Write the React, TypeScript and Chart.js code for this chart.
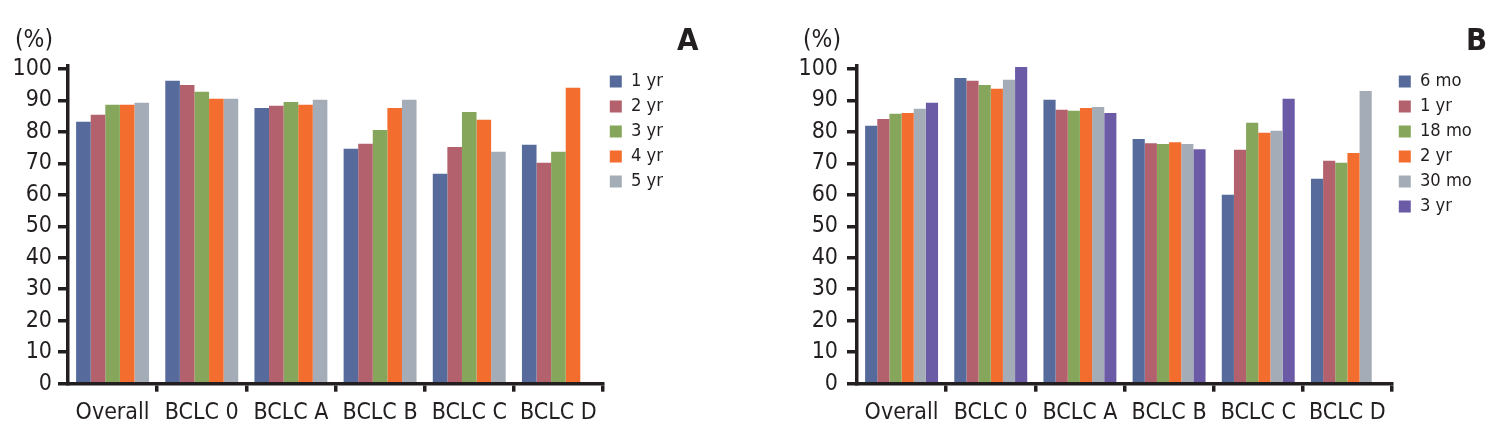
import React, { useEffect, useRef } from 'react';
import { Chart, registerables } from 'chart.js';

Chart.register(...registerables);

// ---------- data ----------
const categories = ['Overall', 'BCLC 0', 'BCLC A', 'BCLC B', 'BCLC C', 'BCLC D'];

// Panel A
const seriesLabelsA = ['1 yr', '2 yr', '3 yr', '4 yr', '5 yr'];
const yr1A = [83.2, 96.2, 87.6, 74.6, 66.7, 75.9];
const yr2A = [85.4, 94.9, 88.3, 76.2, 75.2, 70.2];
const yr3A = [88.6, 92.7, 89.5, 80.6, 86.3, 73.7];
const yr4A = [88.6, 90.5, 88.6, 87.6, 83.8, 94.0];
const yr5A = [89.2, 90.5, 90.2, 90.2, 73.7, null];

// Panel B
const seriesLabelsB = ['6 mo', '1 yr', '18 mo', '2 yr', '30 mo', '3 yr'];
const mo6B = [81.9, 97.1, 90.2, 77.7, 60.0, 65.1];
const yr1B = [84.1, 96.2, 87.0, 76.4, 74.3, 70.8];
const mo18B = [85.7, 94.9, 86.7, 76.1, 82.9, 70.2];
const yr2B = [86.0, 93.7, 87.6, 76.7, 79.7, 73.3];
const mo30B = [87.3, 96.5, 87.9, 76.1, 80.3, 93.0];
const yr3B = [89.2, 100.6, 86.0, 74.5, 90.5, null];

const yMin = 0;
const yMax = 101;
const yStep = 10;
const unitLabel = '(%)';

// ---------- styles ----------
const INK = '#231f20';
const COLORS_A = ['#566a9b', '#b3616c', '#86a65b', '#f36d2f', '#a4adb7'];
const COLORS_B = ['#566a9b', '#b3616c', '#86a65b', '#f36d2f', '#a4adb7', '#6b5ba7'];
const FAMILY_CANDIDATES = [
  'Noto Sans ExtraCondensed',
  'Noto Sans Condensed',
  'Liberation Sans Narrow',
  'DejaVu Sans Condensed',
];

// ---------- font metrics helpers ----------
const measureCtx = (() => {
  const c = document.createElement('canvas');
  return c.getContext('2d') as CanvasRenderingContext2D;
})();

function pickFamily(): string {
  const test = 'Overall BCLC 0123456789 yr mo';
  for (const fam of FAMILY_CANDIDATES) {
    measureCtx.font = '40px monospace';
    const w0 = measureCtx.measureText(test).width;
    measureCtx.font = `40px '${fam}', monospace`;
    const w1 = measureCtx.measureText(test).width;
    if (Math.abs(w1 - w0) > 0.5) return `'${fam}'`;
  }
  return "'DejaVu Sans'";
}

const FAMILY = pickFamily() + ', sans-serif';

function textWidth(text: string, size: number, weight = 'normal'): number {
  measureCtx.font = `${weight} ${size}px ${FAMILY}`;
  return measureCtx.measureText(text).width;
}

// size such that the text is the wanted width
function sizeFor(text: string, width: number): number {
  return (100 * width) / textWidth(text, 100);
}

const TICK_SIZE = Math.min(26, sizeFor('Overall', 74));
const LEGEND_SIZE = Math.min(20, sizeFor('18 mo', 52));
const UNIT_SIZE = Math.min(28, sizeFor('(%)', 38));
const LETTER_SIZE = Math.min(31, sizeFor('A', 19));

const decorPlugin = {
  id: 'decor',
  afterDraw(chart: any, _args: any, opts: any) {
    const ctx = chart.ctx;
    ctx.save();
    ctx.fillStyle = INK;
    ctx.textBaseline = 'alphabetic';
    ctx.textAlign = 'left';
    ctx.font = `${UNIT_SIZE}px ${FAMILY}`;
    ctx.fillText(opts.unit, opts.unitX, opts.unitY);
    ctx.font = `bold ${LETTER_SIZE}px ${FAMILY}`;
    ctx.fillText(opts.letter, opts.letterX, opts.letterY);
    ctx.restore();
  },
};

function makeConfig(
  labels: string[],
  series: (number | null)[][],
  colors: string[],
  geom: { canvasW: number; axisLeft: number; axisRight: number; yPad: number },
  decor: any
): any {
  const legendPad = 25 - LEGEND_SIZE;
  const maxText = Math.max(...labels.map((l) => textWidth(l, LEGEND_SIZE)));
  const legendW = legendPad + 12 + LEGEND_SIZE / 2 + maxText + 10;
  const rightPad = geom.canvasW - geom.axisRight - legendW;
  const leftPad = 2;
  const yAxisW = geom.axisLeft - leftPad;
  const xLabelPad = 413 - (383.7 + 8) - 0.6 * TICK_SIZE;

  return {
    type: 'bar',
    data: {
      labels: categories,
      datasets: series.map((d, i) => ({
        label: labels[i],
        data: d,
        backgroundColor: colors[i],
        borderWidth: 0,
        categoryPercentage: 0.818,
        barPercentage: 1,
      })),
    },
    options: {
      responsive: false,
      animation: false,
      devicePixelRatio: 1,
      layout: { padding: { left: leftPad, right: rightPad, top: 65.7, bottom: 0 } },
      plugins: {
        legend: {
          position: 'right',
          align: 'start',
          labels: {
            boxWidth: 12,
            boxHeight: 12,
            padding: legendPad,
            color: INK,
            font: { family: FAMILY, size: LEGEND_SIZE },
          },
        },
        tooltip: { enabled: false },
        decor,
      },
      scales: {
        x: {
          grid: {
            offset: true,
            drawOnChartArea: false,
            drawTicks: true,
            tickLength: 8,
            lineWidth: 3.5,
            color: (c: any) =>
              c.index === 0 || c.index === categories.length ? 'rgba(0,0,0,0)' : INK,
          },
          border: { display: true, color: INK, width: 3.5, z: 1 },
          ticks: {
            color: INK,
            font: { family: FAMILY, size: TICK_SIZE },
            padding: xLabelPad,
            maxRotation: 0,
            autoSkip: false,
          },
          afterFit: (s: any) => {
            s.height = 442 - 383.7;
          },
        },
        y: {
          min: yMin,
          max: yMax,
          grid: {
            drawOnChartArea: false,
            drawTicks: true,
            tickLength: 10,
            lineWidth: 3.5,
            color: INK,
          },
          border: { display: true, color: INK, width: 3.5, z: 1 },
          ticks: {
            stepSize: yStep,
            includeBounds: false,
            autoSkip: false,
            padding: geom.yPad,
            color: INK,
            font: { family: FAMILY, size: TICK_SIZE },
          },
          afterFit: (s: any) => {
            s.width = yAxisW;
          },
        },
      },
    },
    plugins: [decorPlugin],
  };
}

function Panel(props: { left: number; width: number; config: any }) {
  const ref = useRef<HTMLCanvasElement | null>(null);
  useEffect(() => {
    if (!ref.current) return;
    const chart = new Chart(ref.current, props.config);
    return () => chart.destroy();
  }, []);
  return (
    <canvas
      ref={ref}
      width={props.width}
      height={442}
      style={{ position: 'absolute', left: props.left, top: 0, width: props.width, height: 442 }}
    />
  );
}

export default function App() {
  const cfgA = makeConfig(
    seriesLabelsA,
    [yr1A, yr2A, yr3A, yr4A, yr5A],
    COLORS_A,
    { canvasW: 750, axisLeft: 68, axisRight: 603, yPad: 6 },
    { unit: unitLabel, unitX: 15, unitY: 47, letter: 'A', letterX: 677, letterY: 50 }
  );
  const cfgB = makeConfig(
    seriesLabelsB,
    [mo6B, yr1B, mo18B, yr2B, mo30B, yr3B],
    COLORS_B,
    { canvasW: 753, axisLeft: 107, axisRight: 642, yPad: 9 },
    { unit: unitLabel, unitX: 53, unitY: 47, letter: 'B', letterX: 716, letterY: 50 }
  );
  return (
    <div
      style={{
        position: 'absolute',
        left: 0,
        top: 0,
        width: 1503,
        height: 442,
        background: '#ffffff',
        overflow: 'hidden',
      }}
    >
      <Panel left={0} width={750} config={cfgA} />
      <Panel left={750} width={753} config={cfgB} />
    </div>
  );
}
